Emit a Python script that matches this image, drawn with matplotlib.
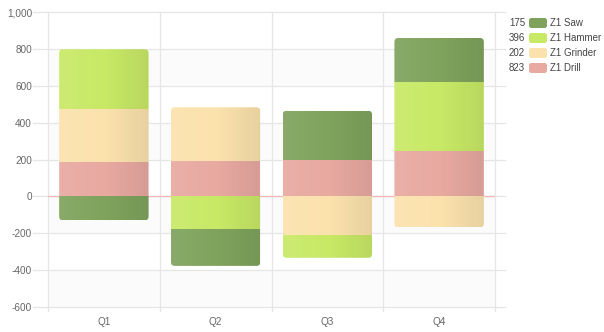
import numpy as np
import matplotlib.pyplot as plt
from matplotlib.patches import FancyBboxPatch

plt.rcParams["font.family"] = ["Liberation Sans", "DejaVu Sans"]

# Quarterly figures per tool line (negative values stack below zero)
quarters = ["Q1", "Q2", "Q3", "Q4"]
series = ["Z1 Drill", "Z1 Grinder", "Z1 Hammer", "Z1 Saw"]
drill = [186, 190, 199, 248]
grinder = [287, 293, -210, -168]
hammer = [325, -179, -123, 373]
saw = [-130, -198, 265, 238]
values = [drill, grinder, hammer, saw]
colors = ["#e8a9a1", "#fbe2ad", "#c8e966", "#7fa35d"]

yticks = [-600, -400, -200, 0, 200, 400, 600, 800, 1000]
ytick_labels = ["-600", "-400", "-200", "0", "200", "400", "600", "800", "1,000"]

W, H = 604, 332
fig = plt.figure(figsize=(W / 100, H / 100), dpi=100)
fig.patch.set_facecolor("white")
ax = fig.add_axes([48 / W, (H - 307) / H, (495 - 48) / W, (307 - 12) / H])
ax.set_xlim(-0.5, 3.5)
ax.set_ylim(-600, 1000)
for s in ax.spines.values():
    s.set_visible(False)

grid_c = "#e6e6e6"
ytr = ax.get_yaxis_transform()
xtr = ax.get_xaxis_transform()

# faint alternating bands
for lo in [600, 200, -200, -600]:
    ax.axhspan(lo, lo + 200, color="#fbfbfb", zorder=0, lw=0)

# horizontal grid lines, running a little past the plot on both sides
for y in yticks:
    ax.plot([-15 / 447, 1 + 10 / 447], [y, y], transform=ytr, color=grid_c,
            lw=0.9, clip_on=False, zorder=1)
# vertical grid lines at category boundaries
for x in np.arange(-0.5, 4, 1):
    ax.plot([x, x], [-4 / 295, 1], transform=xtr, color=grid_c, lw=0.9,
            clip_on=False, zorder=1)

ax.axhline(0, color="#f5b8b8", lw=0.9, zorder=1)

bar_w = 0.8
x = np.arange(len(quarters))
grad = np.zeros((1, 256, 4))
t = np.linspace(0, 1, 256)
grad[0, :, :3] = np.where(t[:, None] < 0.5, 1.0, 0.0)
grad[0, :, 3] = np.abs(t - 0.5) * 0.16

for i in range(len(quarters)):
    pos, neg = 0, 0
    segs = []
    for k, vals in enumerate(values):
        v = vals[i]
        if v >= 0:
            segs.append((pos, v, colors[k]))
            pos += v
        else:
            segs.append((neg, v, colors[k]))
            neg += v
    clip = FancyBboxPatch((x[i] - bar_w / 2, neg), bar_w, pos - neg,
                          boxstyle="round,pad=0,rounding_size=0.035",
                          mutation_aspect=610, fc="none", ec="none", zorder=2)
    ax.add_patch(clip)
    for base, v, c in segs:
        b = ax.bar(x[i], v, bottom=base, width=bar_w, color=c, lw=0, zorder=2)
        for p in b:
            p.set_clip_path(clip)
    im = ax.imshow(grad, extent=(x[i] - bar_w / 2, x[i] + bar_w / 2, neg, pos),
                   aspect="auto", zorder=3, interpolation="bilinear")
    im.set_clip_path(clip)

ax.set_xlim(-0.5, 3.5)
ax.set_ylim(-600, 1000)
ax.set_xticks(x)
ax.set_xticklabels(quarters)
ax.set_yticks(yticks)
ax.set_yticklabels(ytick_labels)
ax.tick_params(length=0, labelsize=7.2, colors="#666666")
ax.tick_params(axis="x", pad=7)
ax.tick_params(axis="y", pad=11.5)

# legend on the right, with series totals
legend_order = [3, 2, 1, 0]
for j, k in enumerate(legend_order):
    yc = (H - (23 + 15 * j)) / H
    total = sum(values[k])
    fig.text(525 / W, yc, str(total), ha="right", va="center", fontsize=7,
             color="#444444")
    sw = FancyBboxPatch((529 / W, yc - 5 / H), 18 / W, 10 / H,
                        boxstyle="round,pad=0,rounding_size=0.004",
                        mutation_aspect=W / H, transform=fig.transFigure,
                        fc=colors[k], ec="none")
    fig.patches.append(sw)
    fig.text(550 / W, yc, series[k], ha="left", va="center", fontsize=7,
             color="#444444")

fig.savefig("out.png", dpi=100)
